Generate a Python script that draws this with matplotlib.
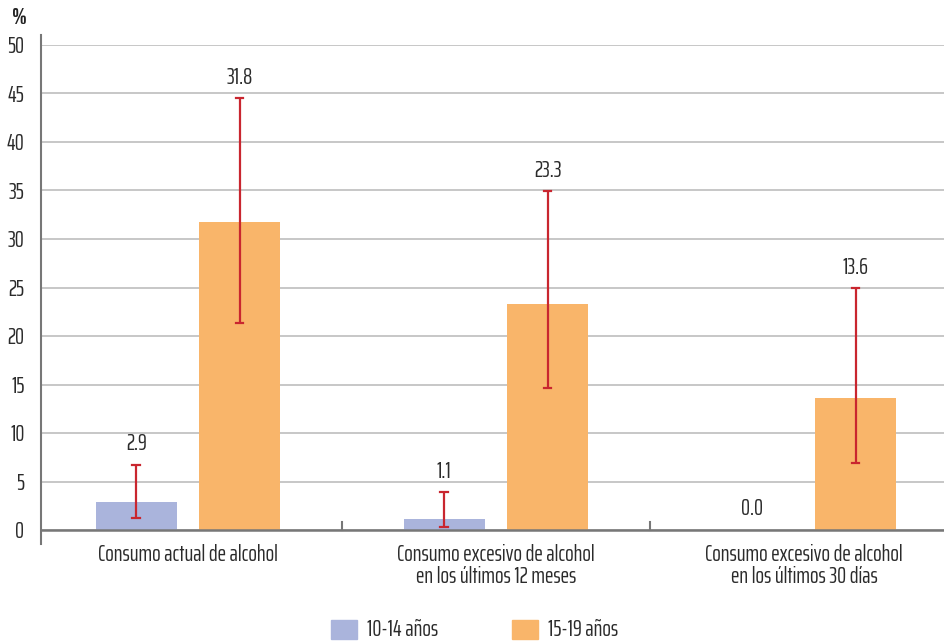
import matplotlib
matplotlib.use("Agg")
import matplotlib.pyplot as plt
from matplotlib import font_manager
from matplotlib.patches import Rectangle
import numpy as np

categories = ["Consumo actual de alcohol",
              "Consumo excesivo de alcohol\nen los últimos 12 meses",
              "Consumo excesivo de alcohol\nen los últimos 30 días"]
series_names = ["10-14 años", "15-19 años"]
values_young = [2.9, 1.1, 0.0]
values_old = [31.8, 23.3, 13.6]
ci_low_young = [1.2, 0.3, None]
ci_high_young = [6.7, 3.9, None]
ci_low_old = [21.3, 14.6, 6.9]
ci_high_old = [44.5, 34.9, 24.9]
yticks = [0, 5, 10, 15, 20, 25, 30, 35, 40, 45, 50]

names = {f.name for f in font_manager.fontManager.ttflist}
prefs = ["Saira ExtraCondensed", "Sofia Sans Extra Condensed", "Pathway Gothic One",
         "PT Sans Narrow", "DejaVu Sans"]
fam = next(p for p in prefs if p in names)
plt.rcParams['font.family'] = [fam, 'DejaVu Sans']
plt.rcParams['font.weight'] = 'normal'

c_blue = "#AAB4DC"
c_orange = "#F9B56A"
c_err = "#C9262F"
c_txt = "#2B2B2B"

W, H = 945, 641
fig = plt.figure(figsize=(W/100, H/100), dpi=100)

# fit font size so "Consumo actual de alcohol" spans ~180 px like the reference
r = fig.canvas.get_renderer()
t = fig.text(0, 0, categories[0], fontsize=14)
w14 = t.get_window_extent(renderer=r).width
t.remove()
fs = min(18.0, 14 * 180 / w14)

ax = fig.add_axes([41/W, 1 - 530/H, (945-41)/W, (530-45)/H])

x = np.arange(len(categories))
bw = 0.263
off = 0.168
ax.set_xlim(-0.477, 2.458)
ax.set_ylim(0, 50)

ax.bar(x - off, values_young, bw, color=c_blue, zorder=2)
ax.bar(x + off, values_old, bw, color=c_orange, zorder=2)

def draw_err(xs, lo, hi):
    for xi, l, h in zip(xs, lo, hi):
        if l is None:
            continue
        ax.plot([xi, xi], [l, h], color=c_err, lw=1.6, zorder=3, solid_capstyle='butt')
        for yy in (l, h):
            ax.plot([xi - 0.012, xi + 0.012], [yy, yy], color=c_err, lw=1.6, zorder=3)

draw_err(x - off, ci_low_young, ci_high_young)
draw_err(x + off, ci_low_old, ci_high_old)

for i in range(len(categories)):
    ty = ci_high_young[i] if ci_high_young[i] is not None else values_young[i]
    ax.text(x[i] - off, ty + 1.1, f"{values_young[i]:.1f}", ha='center', va='bottom',
            fontsize=fs, color=c_txt)
    ax.text(x[i] + off, ci_high_old[i] + 1.1, f"{values_old[i]:.1f}", ha='center', va='bottom',
            fontsize=fs, color=c_txt)

ax.set_yticks(yticks)
ax.set_yticklabels([str(v) for v in yticks], fontsize=fs, color=c_txt)
ax.yaxis.grid(True, color="#BDBDBD", lw=1.2, zorder=0)
ax.set_axisbelow(True)
ax.tick_params(axis='y', length=0, pad=12)
for s in ['top', 'right']:
    ax.spines[s].set_visible(False)
ax.spines['left'].set_color("#777777")
ax.spines['left'].set_linewidth(1.5)
ax.spines['bottom'].set_color("#777777")
ax.spines['bottom'].set_linewidth(1.8)
ax.spines['left'].set_bounds(-1.4, 51)

ax.set_xticks(x)
ax.set_xticklabels(categories, fontsize=fs, color=c_txt, linespacing=1.05)
ax.tick_params(axis='x', length=0, pad=10)
for b in [0.5, 1.5]:
    ax.plot([b, b], [0, 0.85], color="#777777", lw=1.5, clip_on=False, zorder=4)

fig.text(12/W, 1 - 18/H, "%", fontsize=fs, fontweight='bold', color="#222222", va='center')

# legend
lx = [331, 512]
for px, col, name in zip(lx, [c_blue, c_orange], series_names):
    fig.patches.append(Rectangle((px/W, 1 - 639/H), 26/W, 19/H, transform=fig.transFigure,
                                 color=col, figure=fig))
    fig.text((px + 36)/W, 1 - 630/H, name, fontsize=fs, color=c_txt, va='center')

fig.savefig("out.png", dpi=100)
